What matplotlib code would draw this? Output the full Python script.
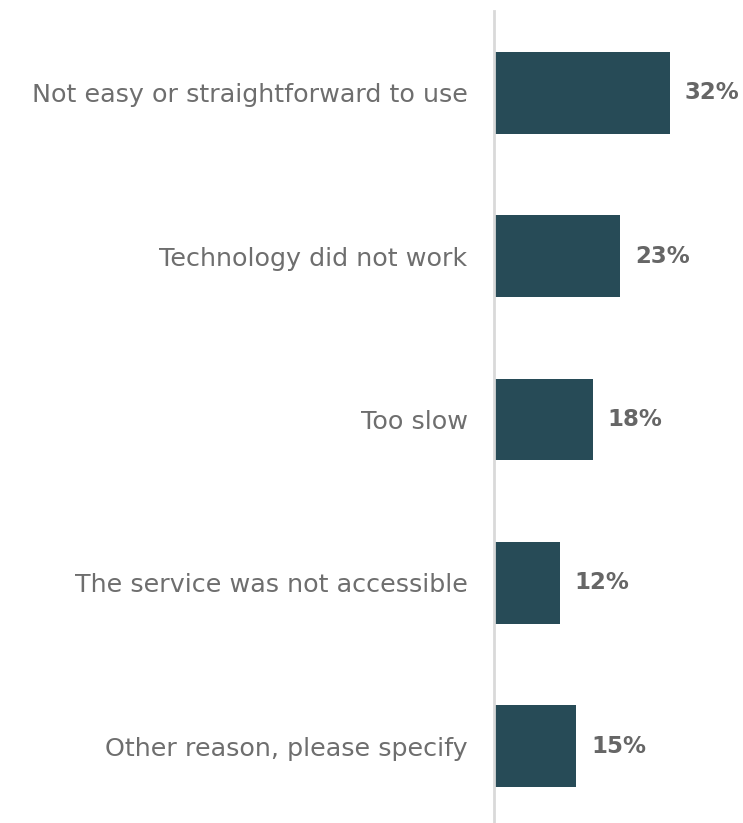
import matplotlib.pyplot as plt

reasons = [
    "Not easy or straightforward to use",
    "Technology did not work",
    "Too slow",
    "The service was not accessible",
    "Other reason, please specify",
]
shares = [32, 23, 18, 12, 15]

BAR_COLOR = "#274b57"
TEXT_COLOR = "#6e6e6e"

fig = plt.figure(figsize=(7.43, 8.23), dpi=100)
ax = fig.add_axes([494 / 743, 0, 249 / 743, 812 / 823])

pos = list(range(len(reasons)))
ax.barh(pos, shares, height=0.5, color=BAR_COLOR, zorder=2)

for y, v in zip(pos, shares):
    ax.text(v + 2.7, y, f"{v}%", va="center", ha="left",
            fontsize=16.5, fontweight="bold", color="#666666")

ax.set_yticks(pos)
ax.set_yticklabels(reasons, fontsize=18.3, color=TEXT_COLOR, va="center_baseline")
ax.tick_params(axis="y", length=0, pad=19)
ax.set_xticks([])
ax.set_xlim(0, 45.3)
ax.set_ylim(4.47, -0.5)

for side in ["top", "right", "bottom"]:
    ax.spines[side].set_visible(False)
ax.spines["left"].set_color("#d9d9d9")
ax.spines["left"].set_linewidth(2)

fig.savefig("out.png", dpi=100)
